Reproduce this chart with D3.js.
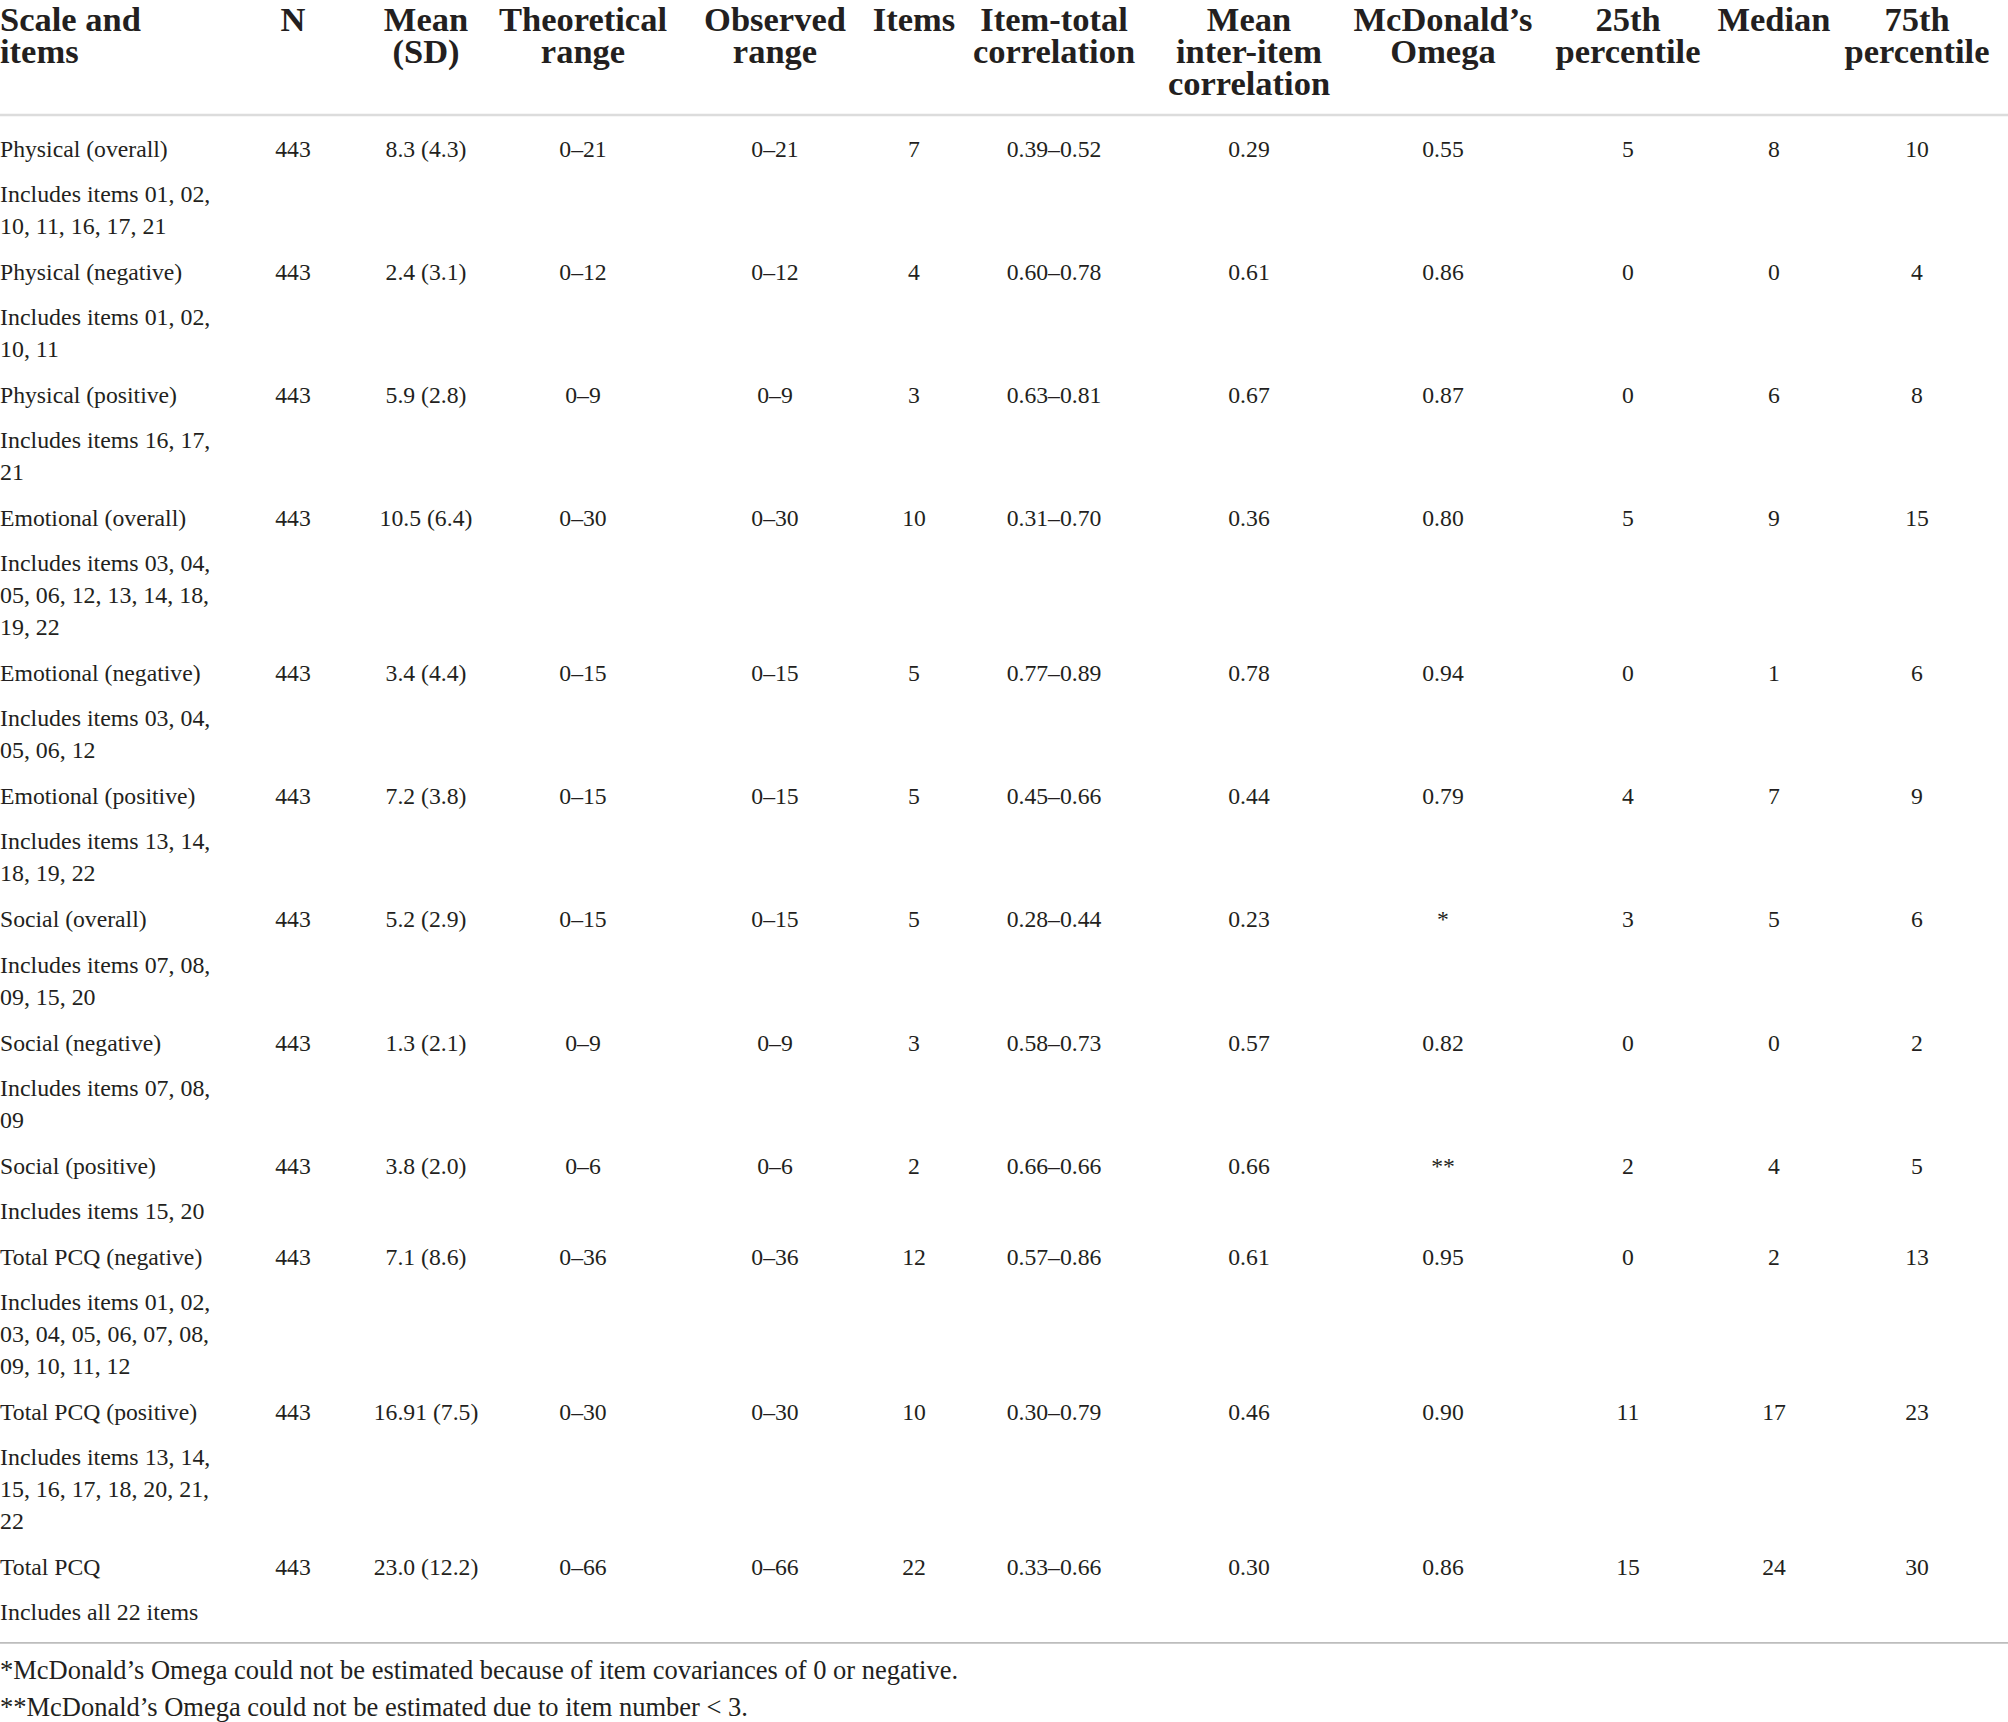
<!DOCTYPE html>
<html>
<head>
<meta charset="utf-8">
<script src="https://cdn.jsdelivr.net/npm/d3@7"></script>
<style>
  html, body { margin: 0; padding: 0; background: #fff; }
  svg text { font-family: "Liberation Serif", "Times New Roman", serif; fill: #231f20; }
</style>
</head>
<body>
<svg id="chart"></svg>
<script>
// table data
let scaleNames = ["Physical (overall)", "Physical (negative)", "Physical (positive)",
  "Emotional (overall)", "Emotional (negative)", "Emotional (positive)",
  "Social (overall)", "Social (negative)", "Social (positive)",
  "Total PCQ (negative)", "Total PCQ (positive)", "Total PCQ"]
let includesText = [
  ["Includes items 01, 02,", "10, 11, 16, 17, 21"],
  ["Includes items 01, 02,", "10, 11"],
  ["Includes items 16, 17,", "21"],
  ["Includes items 03, 04,", "05, 06, 12, 13, 14, 18,", "19, 22"],
  ["Includes items 03, 04,", "05, 06, 12"],
  ["Includes items 13, 14,", "18, 19, 22"],
  ["Includes items 07, 08,", "09, 15, 20"],
  ["Includes items 07, 08,", "09"],
  ["Includes items 15, 20"],
  ["Includes items 01, 02,", "03, 04, 05, 06, 07, 08,", "09, 10, 11, 12"],
  ["Includes items 13, 14,", "15, 16, 17, 18, 20, 21,", "22"],
  ["Includes all 22 items"]
]
let nValues = [443, 443, 443, 443, 443, 443, 443, 443, 443, 443, 443, 443]
let meanSD = ["8.3 (4.3)", "2.4 (3.1)", "5.9 (2.8)", "10.5 (6.4)", "3.4 (4.4)", "7.2 (3.8)",
  "5.2 (2.9)", "1.3 (2.1)", "3.8 (2.0)", "7.1 (8.6)", "16.91 (7.5)", "23.0 (12.2)"]
let theoreticalRange = ["0–21", "0–12", "0–9", "0–30", "0–15", "0–15", "0–15", "0–9", "0–6", "0–36", "0–30", "0–66"]
let observedRange = ["0–21", "0–12", "0–9", "0–30", "0–15", "0–15", "0–15", "0–9", "0–6", "0–36", "0–30", "0–66"]
let itemCounts = [7, 4, 3, 10, 5, 5, 5, 3, 2, 12, 10, 22]
let itemTotalCorr = ["0.39–0.52", "0.60–0.78", "0.63–0.81", "0.31–0.70", "0.77–0.89", "0.45–0.66",
  "0.28–0.44", "0.58–0.73", "0.66–0.66", "0.57–0.86", "0.30–0.79", "0.33–0.66"]
let interItemCorr = ["0.29", "0.61", "0.67", "0.36", "0.78", "0.44", "0.23", "0.57", "0.66", "0.61", "0.46", "0.30"]
let omega = ["0.55", "0.86", "0.87", "0.80", "0.94", "0.79", "*", "0.82", "**", "0.95", "0.90", "0.86"]
let pct25 = [5, 0, 0, 5, 0, 4, 3, 0, 2, 0, 11, 15]
let medians = [8, 0, 6, 9, 1, 7, 5, 0, 4, 2, 17, 24]
let pct75 = [10, 4, 8, 15, 6, 9, 6, 2, 5, 13, 23, 30]

let headers = [["Scale and", "items"], ["N"], ["Mean", "(SD)"], ["Theoretical", "range"],
  ["Observed", "range"], ["Items"], ["Item-total", "correlation"], ["Mean", "inter-item", "correlation"],
  ["McDonald’s", "Omega"], ["25th", "percentile"], ["Median"], ["75th", "percentile"]]
let footnotes = ["*McDonald’s Omega could not be estimated because of item covariances of 0 or negative.",
  "**McDonald’s Omega could not be estimated due to item number < 3."]

let columns = [scaleNames, nValues, meanSD, theoreticalRange, observedRange, itemCounts,
  itemTotalCorr, interItemCorr, omega, pct25, medians, pct75]

let width = 2008
let height = 1722

let svg = d3.select('#chart')
  .attr('width', width)
  .attr('height', height)

// column centres (first column is left aligned)
let xScale = d3.scaleOrdinal()
  .domain(d3.range(columns.length))
  .range([0, 293, 426, 583, 775, 914, 1054, 1249, 1443, 1628, 1774, 1917])

// vertical layout
let headLine = 32
let firstRow = 148.5
let toIncludes = 45.1
let linePitch = 32.05
let toNextRow = 46.0

let rowY = []
let y = firstRow
includesText.forEach((lines, i) => {
  rowY.push(y)
  y += toIncludes + linePitch * (lines.length - 1) + toNextRow
})
let lastIncl = rowY[rowY.length - 1] + toIncludes + linePitch * (includesText[includesText.length - 1].length - 1)

// header
let head = svg.append('g').attr('class', 'header')
headers.forEach((lines, c) => {
  lines.forEach((t, k) => {
    head.append('text')
      .attr('x', xScale(c))
      .attr('y', 19 + k * headLine)
      .attr('dominant-baseline', 'central')
      .attr('text-anchor', c === 0 ? 'start' : 'middle')
      .attr('font-weight', 'bold')
      .attr('font-size', 34.5)
      .text(t)
  })
})

svg.append('line')
  .attr('x1', 0).attr('x2', width)
  .attr('y1', 115).attr('y2', 115)
  .attr('stroke', '#dcdcdc')
  .attr('stroke-width', 2.5)

// body cells
let body = svg.append('g').attr('class', 'body')
columns.forEach((col, c) => {
  body.selectAll('text.c' + c)
    .data(col)
    .enter()
    .append('text')
    .attr('class', 'c' + c)
    .attr('x', xScale(c))
    .attr('y', (d, i) => rowY[i])
    .attr('dominant-baseline', 'central')
    .attr('text-anchor', c === 0 ? 'start' : 'middle')
    .attr('font-size', 23.7)
    .text(d => d)
})

// "Includes items ..." lines
includesText.forEach((lines, i) => {
  body.selectAll(null)
    .data(lines)
    .enter()
    .append('text')
    .attr('x', 0)
    .attr('y', (d, k) => rowY[i] + toIncludes + k * linePitch)
    .attr('dominant-baseline', 'central')
    .attr('font-size', 23.9)
    .text(d => d)
})

svg.append('line')
  .attr('x1', 0).attr('x2', width)
  .attr('y1', lastIncl + 30.5).attr('y2', lastIncl + 30.5)
  .attr('stroke', '#bdbdbd')
  .attr('stroke-width', 1.8)

// footnotes
svg.selectAll('text.foot')
  .data(footnotes)
  .enter()
  .append('text')
  .attr('class', 'foot')
  .attr('x', 0)
  .attr('y', (d, i) => lastIncl + 57.5 + i * 37)
  .attr('dominant-baseline', 'central')
  .attr('font-size', 26.5)
  .text(d => d)
</script>
</body>
</html>
